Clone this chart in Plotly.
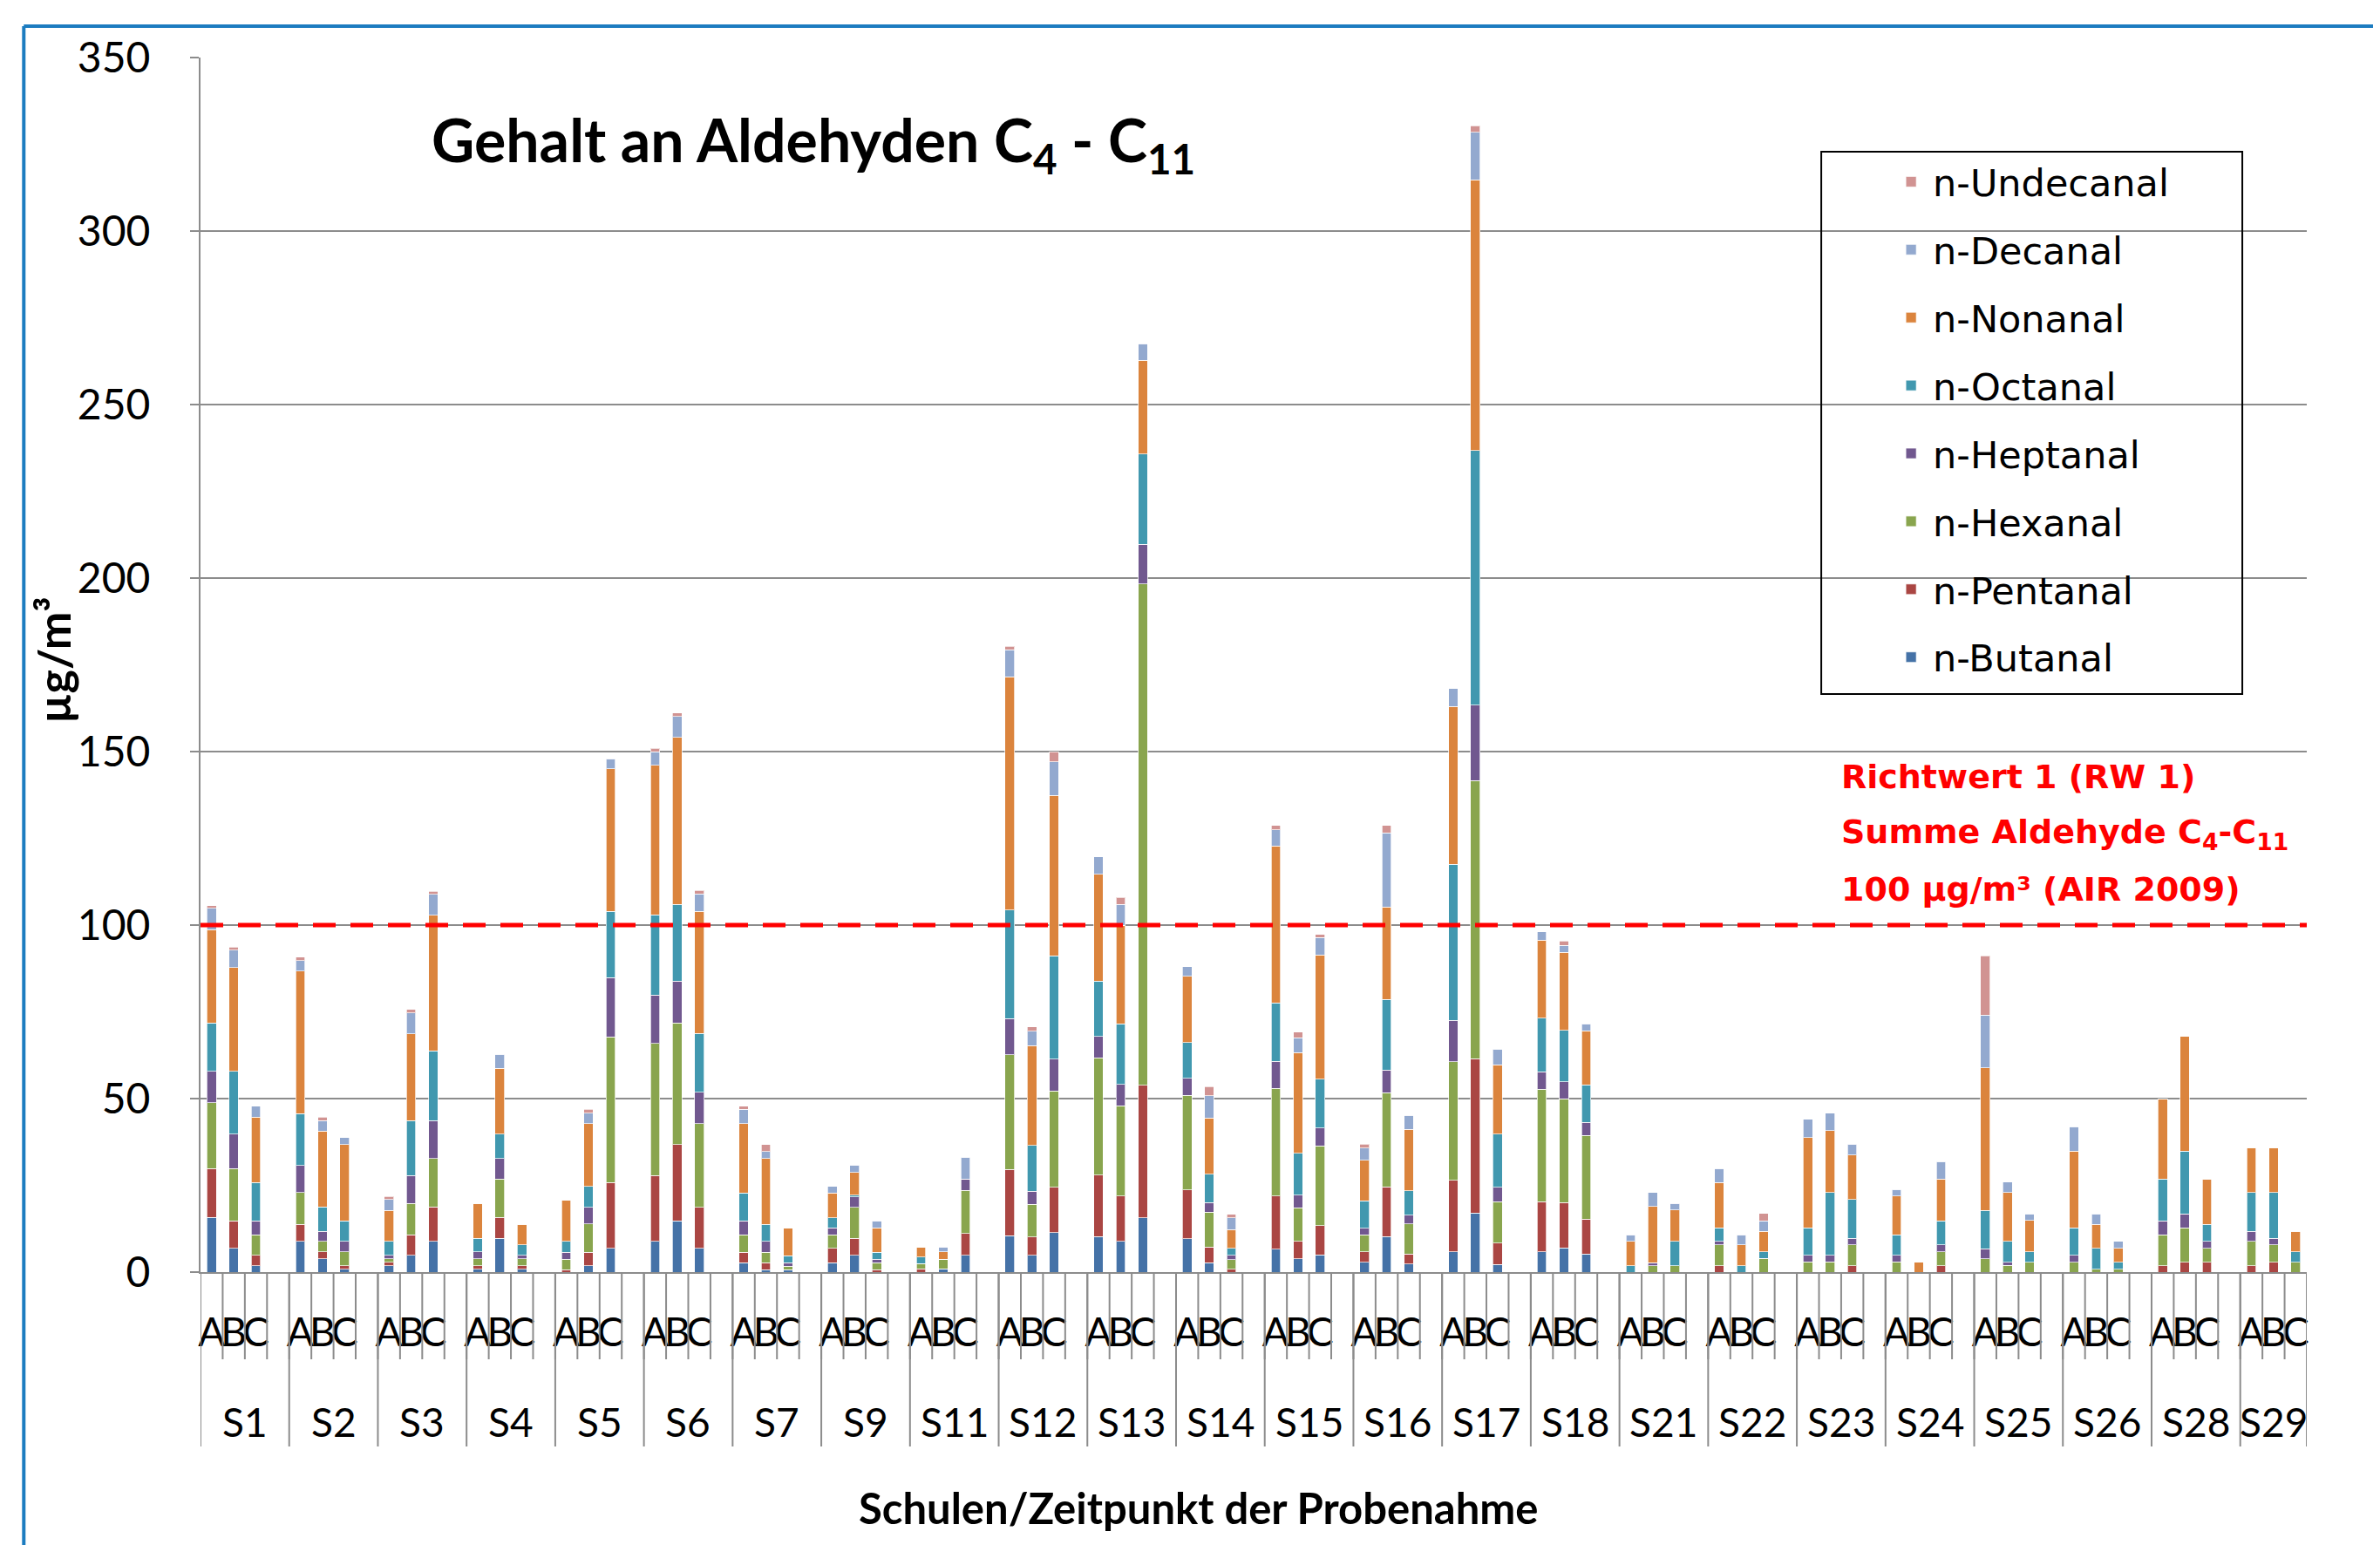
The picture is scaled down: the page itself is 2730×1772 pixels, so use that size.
import plotly.graph_objects as go

# ---------------- data ----------------
schools = ["S1", "S2", "S3", "S4", "S5", "S6", "S7", "S9", "S11", "S12", "S13", "S14",
           "S15", "S16", "S17", "S18", "S21", "S22", "S23", "S24", "S25", "S26", "S28", "S29"]
samples = ["A", "B", "C"]

series_names = ["n-Butanal", "n-Pentanal", "n-Hexanal", "n-Heptanal",
                "n-Octanal", "n-Nonanal", "n-Decanal", "n-Undecanal"]

# values per school: A, B, C
butanal = [15.8, 6.8, 1.8,  8.8, 3.8, 0.8,  1.8, 4.8, 8.8,  0.8, 9.8, 0.8,
           0, 1.8, 6.8,  8.8, 14.7, 6.8,  2.7, 0.7, 0.7,  2.7, 4.8, 0,
           0, 0.9, 4.9,  10.5, 4.9, 11.4,  10.2, 8.9, 15.7,  9.6, 2.7, 0,
           6.6, 3.8, 5.0,  2.8, 10.2, 2.3,  5.9, 17.0, 2.2,  5.9, 7.0, 5.2,
           0, 0, 0,  0, 0, 0,  0, 0, 0,  0, 0, 0,
           0, 0, 0,  0, 0, 0,  0, 0, 0,  0, 0, 0]
pentanal = [14.0, 8.0, 3.0,  5.0, 2.0, 1.0,  1.0, 6.0, 10.0,  1.0, 6.0, 1.0,
            0.7, 3.9, 19.0,  19.0, 22.1, 11.9,  3.0, 2.0, 0,  4.1, 5.0, 0.7,
            0.9, 0, 6.2,  19.1, 5.2, 13.0,  17.7, 13.0, 38.1,  14.1, 4.5, 0.8,
            15.3, 5.0, 8.4,  3.1, 14.4, 2.9,  20.5, 44.5, 6.1,  14.4, 13.0, 10.1,
            0, 0, 0,  1.8, 0, 0,  0, 0, 1.8,  0, 0, 1.8,
            0, 0, 0,  0, 0, 0,  1.8, 2.8, 2.8,  1.8, 2.8, 0]
hexanal = [19.0, 15.0, 6.0,  9.1, 3.0, 4.0,  1.0, 9.0, 13.9,  2.0, 11.0, 2.0,
           3.0, 8.2, 42.0,  38.1, 35.0, 24.1,  5.1, 3.0, 1.0,  4.0, 8.9, 2.0,
           1.6, 2.8, 12.4,  33.0, 9.4, 27.8,  33.8, 26.0, 144.5,  27.2, 10.1, 2.8,
           31.0, 9.7, 23.0,  4.8, 27.1, 8.7,  34.2, 80.1, 12.0,  32.4, 29.9, 24.1,
           0, 1.8, 1.8,  6.1, 0, 3.9,  2.9, 2.9, 6.1,  2.9, 0, 4.1,
           3.8, 1.9, 2.8,  2.8, 0.8, 0.8,  9.0, 10.0, 4.0,  7.0, 5.0, 2.8]
heptanal = [9.0, 9.9, 4.0,  7.8, 3.0, 3.0,  1.0, 8.0, 11.0,  2.0, 5.9, 1.0,
            2.0, 4.8, 17.1,  13.9, 12.1, 9.0,  3.9, 3.1, 1.0,  1.9, 3.0, 1.0,
            0, 0, 3.3,  10.4, 3.8, 9.2,  6.2, 6.2, 11.5,  5.0, 2.8, 1.2,
            7.8, 3.7, 5.1,  1.9, 6.5, 2.5,  12.0, 21.8, 4.1,  5.0, 5.0, 3.7,
            0, 0.9, 0,  1.0, 0, 0,  1.9, 1.9, 1.9,  1.9, 0, 2.0,
            2.9, 0.9, 0,  2.0, 0, 0,  4.0, 4.0, 2.0,  3.0, 2.0, 0]
octanal = [14.0, 18.1, 11.0,  15.0, 7.0, 6.0,  4.0, 15.9, 20.0,  4.0, 7.0, 3.0,
           3.1, 6.0, 19.1,  23.2, 22.1, 17.0,  8.1, 4.9, 2.0,  3.0, 0.5, 2.0,
           1.8, 0, 0,  31.3, 13.2, 29.8,  15.9, 17.4, 26.0,  10.3, 8.1, 2.0,
           16.9, 12.0, 14.1,  7.9, 20.4, 7.0,  44.9, 73.3, 15.3,  15.5, 14.8, 10.9,
           1.8, 0, 7.1,  3.9, 1.8, 2.0,  8.0, 18.1, 11.1,  6.0, 0, 6.9,
           11.1, 6.0, 3.0,  8.0, 6.0, 2.0,  12.0, 18.1, 5.0,  11.1, 13.1, 3.0]
nonanal = [26.9, 29.9, 18.9,  41.0, 21.9, 22.0,  9.0, 25.0, 39.1,  10.0, 19.0, 6.0,
           12.0, 18.1, 41.0,  43.0, 48.1, 35.2,  20.0, 19.0, 8.0,  7.1, 6.5, 7.0,
           2.9, 2.2, 0,  67.2, 28.8, 46.2,  30.8, 28.4, 27.0,  19.0, 16.2, 5.5,
           45.2, 29.0, 35.8,  11.7, 26.6, 17.8,  45.5, 78.0, 20.0,  22.5, 22.5, 15.5,
           7.0, 16.2, 9.0,  13.0, 6.0, 5.9,  26.0, 17.9, 12.8,  11.1, 2.9, 12.0,
           41.1, 14.1, 9.1,  22.1, 7.0, 4.0,  23.2, 33.1, 13.0,  13.0, 13.0, 6.0]
decanal = [6.1, 5.1, 3.1,  3.0, 3.0, 2.0,  3.1, 6.0, 6.0,  0, 4.0, 0,
           0, 3.0, 2.9,  3.9, 6.0, 5.0,  4.1, 2.0, 0,  1.9, 2.1, 2.0,
           0, 1.3, 6.3,  7.8, 4.1, 9.6,  5.0, 6.1, 4.7,  2.8, 6.4, 3.3,
           4.6, 4.3, 5.0,  3.5, 21.4, 4.0,  5.2, 13.7, 4.6,  2.4, 1.9, 2.0,
           1.9, 4.0, 1.9,  4.1, 3.0, 3.0,  5.2, 5.0, 3.2,  1.9, 0, 5.1,
           15.1, 3.0, 1.9,  7.0, 3.0, 2.0,  0, 0, 0,  0, 0, 0]
undecanal = [0.8, 0.9, 0,  1.1, 1.0, 0,  0.9, 1.0, 0.9,  0, 0, 0,
             0, 1.1, 0,  1.1, 1.0, 1.0,  0.9, 2.1, 0,  0, 0, 0,
             0, 0, 0,  1.1, 1.3, 3.0,  0, 2.0, 0,  0, 2.7, 1.0,
             1.3, 1.7, 0.9,  1.2, 2.1, 0,  0, 2.0, 0,  0, 1.3, 0,
             0, 0, 0,  0, 0, 2.1,  0, 0, 0,  0, 0, 0,
             17.2, 0, 0,  0, 0, 0,  0, 0, 0,  0, 0, 0]

colors = ["#4572A7", "#AA4643", "#89A54E", "#71588F",
          "#4198AF", "#DB843D", "#93A9CF", "#D19392"]

guideline_value = 100

# ---------------- category slots (3 samples + blank spacer per school) ----------------
slots = []
for i, s in enumerate(schools):
    for p in samples:
        slots.append(f"{s} {p}")
    if i < len(schools) - 1:
        slots.append(f"{s} ")
bar_x = [f"{s} {p}" for s in schools for p in samples]

fig = go.Figure()
all_vals = [butanal, pentanal, hexanal, heptanal, octanal, nonanal, decanal, undecanal]
n_series = len(series_names)
for idx, (name, vals, col) in enumerate(zip(series_names, all_vals, colors)):
    fig.add_bar(x=bar_x, y=vals, name=name, legendgroup=name,
                legendrank=n_series - idx,
                marker=dict(color=col, line=dict(color="rgba(255,255,255,0.7)", width=1)))

# ---------------- geometry helpers ----------------
PLOT_H = 1393.0
def py(px_below):  # pixels below the x axis -> paper y
    return -px_below / PLOT_H

GRAY = "#8C8C8C"
shapes = []
# slot boundary ticks
for k in range(len(slots) + 1):
    shapes.append(dict(type="line", xref="x", yref="paper", x0=k - 0.5, x1=k - 0.5,
                       y0=0, y1=py(100), line=dict(color=GRAY, width=2)))
# group dividers
div_pos = [4 * g - 0.5 for g in range(len(schools))] + [len(slots) - 0.5]
for xp in div_pos:
    shapes.append(dict(type="line", xref="x", yref="paper", x0=xp, x1=xp,
                       y0=0, y1=py(200), line=dict(color=GRAY, width=2)))
# guideline
shapes.append(dict(type="line", xref="paper", yref="y", x0=0, x1=1,
                   y0=guideline_value, y1=guideline_value, layer="above",
                   line=dict(color="#FF0000", width=5, dash="26px,17px")))
# legend frame
LEG_X0, LEG_X1, LEG_Y0, LEG_Y1 = 0.7695, 0.9694, 0.476, 0.9225
shapes.append(dict(type="rect", xref="paper", yref="paper", x0=LEG_X0, x1=LEG_X1,
                   y0=LEG_Y0, y1=LEG_Y1, layer="above",
                   line=dict(color="black", width=2), fillcolor="rgba(0,0,0,0)"))
# blue frame
BLUE = "#1C7CC0"
shapes.append(dict(type="line", xref="paper", yref="paper", x0=-0.0839, x1=1.05,
                   y0=1.0259, y1=1.0259, line=dict(color=BLUE, width=4)))
shapes.append(dict(type="line", xref="paper", yref="paper", x0=-0.0839, x1=-0.0839,
                   y0=1.0259, y1=-0.26, line=dict(color=BLUE, width=4)))
shapes.append(dict(type="circle", xref="paper", yref="paper", x0=-0.057, x1=-0.036,
                   y0=1.0416, y1=1.08, fillcolor=BLUE, line=dict(width=0)))

annotations = []
for g, s in enumerate(schools):
    xc = 4 * g + (1.5 if g < len(schools) - 1 else 1)
    annotations.append(dict(x=xc, xref="x", y=py(171), yref="paper", text=s,
                            showarrow=False, xanchor="center", yanchor="middle",
                            font=dict(family="Lato", size=46, color="black")))

annotations.append(dict(x=0.474, xref="paper", y=py(270), yref="paper",
                        text="<b>Schulen/Zeitpunkt der Probenahme</b>", showarrow=False,
                        xanchor="center", yanchor="middle",
                        font=dict(family="Lato", size=49, color="black")))
annotations.append(dict(x=-0.070, xref="paper", y=0.504, yref="paper",
                        text="<b>µg/m³</b>", showarrow=False, textangle=-90,
                        xanchor="center", yanchor="middle",
                        font=dict(family="Lato", size=52, color="black")))
annotations.append(dict(x=0.291, xref="paper", y=0.929, yref="paper",
                        text="<b>Gehalt an Aldehyden C<sub>4</sub> - C<sub>11</sub></b>",
                        showarrow=False, xanchor="center", yanchor="middle",
                        font=dict(family="Lato", size=68, color="black")))
red_lines = ["<b>Richtwert 1 (RW 1)</b>",
             "<b>Summe Aldehyde C<sub>4</sub>-C<sub>11</sub></b>",
             "<b>100 µg/m³ (AIR 2009)</b>"]
for txt, yy in zip(red_lines, [0.4078, 0.3604, 0.3151]):
    annotations.append(dict(x=0.778, xref="paper", y=yy, yref="paper", text=txt,
                            showarrow=False, xanchor="left", yanchor="middle",
                            font=dict(family="DejaVu Sans", size=38, color="#FF0000")))

fig.update_layout(
    width=2730, height=1772,
    margin=dict(l=222, r=92, t=58, b=321),
    paper_bgcolor="white", plot_bgcolor="white",
    barmode="stack", bargap=0.58,
    font=dict(family="Lato", color="black"),
    showlegend=True,
    legend=dict(x=LEG_X0, y=LEG_Y1, xanchor="left", yanchor="top",
                traceorder="grouped", tracegroupgap=19,
                borderwidth=0, bgcolor="rgba(0,0,0,0)",
                font=dict(family="DejaVu Sans", size=43, color="black"),
                indentation=78, itemwidth=40),
    xaxis=dict(type="category", categoryorder="array", categoryarray=slots,
               range=[-0.5, len(slots) - 0.5],
               tickmode="array", tickvals=bar_x, ticktext=[p for s in schools for p in samples],
               tickangle=0, ticks="", ticklabelstandoff=28,
               tickfont=dict(family="Lato", size=46, color="black"),
               showline=True, linecolor=GRAY, linewidth=2, showgrid=False, zeroline=False),
    yaxis=dict(range=[0, 350], dtick=50, tick0=0,
               showline=True, linecolor=GRAY, linewidth=2,
               showgrid=True, gridcolor=GRAY, gridwidth=2, zeroline=False,
               ticks="outside", ticklen=10, tickcolor=GRAY, tickwidth=2,
               ticklabelstandoff=36,
               tickfont=dict(family="Lato", size=48, color="black")),
    shapes=shapes, annotations=annotations,
)

fig.write_html("out.html")
